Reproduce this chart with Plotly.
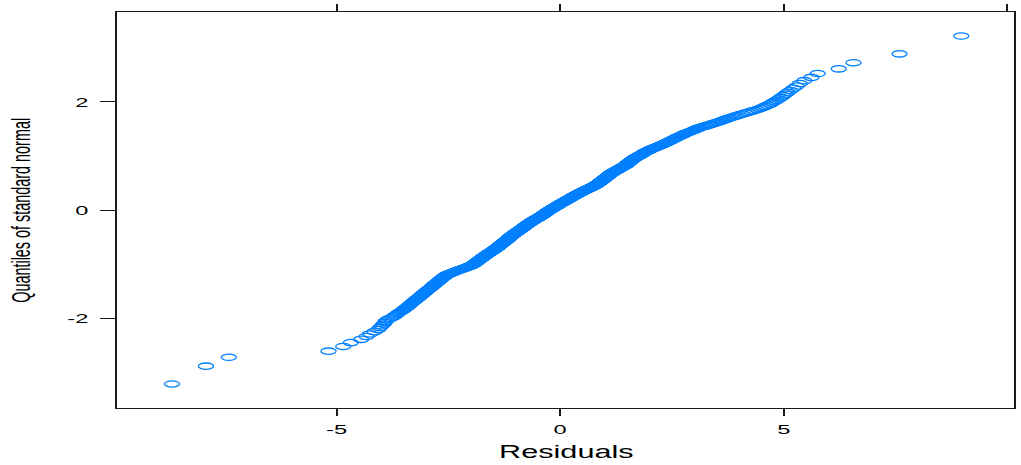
from statistics import NormalDist
import plotly.graph_objects as go

# Model residuals (sorted), one value per observation
residuals = [
    -8.68, -7.92, -7.41, -5.18, -4.85, -4.68, -4.45, -4.33, -4.25, -4.15,
    -4.07, -4.03, -3.99, -3.95, -3.92, -3.90, -3.86, -3.80, -3.74, -3.70,
    -3.67, -3.63, -3.60, -3.56, -3.52, -3.50, -3.47, -3.44, -3.42, -3.39,
    -3.37, -3.35, -3.33, -3.31, -3.29, -3.27, -3.25, -3.23, -3.21, -3.19,
    -3.17, -3.15, -3.14, -3.12, -3.10, -3.09, -3.07, -3.06, -3.04, -3.03,
    -3.01, -3.00, -2.98, -2.97, -2.95, -2.94, -2.92, -2.91, -2.89, -2.88,
    -2.87, -2.86, -2.84, -2.83, -2.82, -2.81, -2.80, -2.78, -2.77, -2.76,
    -2.75, -2.74, -2.73, -2.71, -2.70, -2.69, -2.68, -2.67, -2.66, -2.65,
    -2.64, -2.63, -2.62, -2.60, -2.59, -2.58, -2.57, -2.56, -2.55, -2.54,
    -2.52, -2.50, -2.48, -2.46, -2.44, -2.42, -2.40, -2.38, -2.37, -2.35,
    -2.33, -2.31, -2.29, -2.27, -2.25, -2.23, -2.21, -2.19, -2.17, -2.15,
    -2.13, -2.11, -2.09, -2.08, -2.06, -2.04, -2.02, -2.00, -1.99, -1.97,
    -1.96, -1.95, -1.94, -1.93, -1.92, -1.92, -1.91, -1.90, -1.89, -1.88,
    -1.87, -1.86, -1.86, -1.85, -1.84, -1.83, -1.82, -1.82, -1.81, -1.80,
    -1.79, -1.78, -1.78, -1.77, -1.76, -1.75, -1.74, -1.74, -1.73, -1.72,
    -1.71, -1.70, -1.70, -1.69, -1.68, -1.67, -1.66, -1.66, -1.65, -1.64,
    -1.63, -1.62, -1.62, -1.61, -1.60, -1.59, -1.58, -1.58, -1.57, -1.56,
    -1.55, -1.54, -1.54, -1.53, -1.52, -1.51, -1.50, -1.50, -1.49, -1.48,
    -1.47, -1.47, -1.46, -1.45, -1.44, -1.44, -1.43, -1.42, -1.42, -1.41,
    -1.40, -1.40, -1.39, -1.39, -1.38, -1.37, -1.37, -1.36, -1.36, -1.35,
    -1.34, -1.34, -1.33, -1.33, -1.32, -1.31, -1.31, -1.30, -1.30, -1.29,
    -1.28, -1.28, -1.27, -1.27, -1.26, -1.25, -1.25, -1.24, -1.24, -1.23,
    -1.22, -1.22, -1.21, -1.21, -1.20, -1.19, -1.19, -1.18, -1.18, -1.17,
    -1.17, -1.16, -1.16, -1.15, -1.15, -1.14, -1.14, -1.13, -1.13, -1.12,
    -1.12, -1.11, -1.11, -1.10, -1.10, -1.09, -1.09, -1.08, -1.08, -1.07,
    -1.06, -1.06, -1.05, -1.05, -1.04, -1.03, -1.03, -1.02, -1.02, -1.01,
    -1.00, -1.00, -0.99, -0.99, -0.98, -0.97, -0.97, -0.96, -0.96, -0.95,
    -0.94, -0.94, -0.93, -0.93, -0.92, -0.91, -0.91, -0.90, -0.90, -0.89,
    -0.88, -0.88, -0.87, -0.87, -0.86, -0.85, -0.85, -0.84, -0.84, -0.83,
    -0.83, -0.82, -0.82, -0.81, -0.81, -0.80, -0.80, -0.79, -0.79, -0.78,
    -0.77, -0.77, -0.76, -0.76, -0.75, -0.74, -0.74, -0.73, -0.73, -0.72,
    -0.71, -0.71, -0.70, -0.70, -0.69, -0.68, -0.68, -0.67, -0.67, -0.66,
    -0.65, -0.65, -0.64, -0.64, -0.63, -0.62, -0.62, -0.61, -0.61, -0.60,
    -0.59, -0.59, -0.58, -0.57, -0.57, -0.56, -0.55, -0.55, -0.54, -0.53,
    -0.52, -0.52, -0.51, -0.50, -0.50, -0.49, -0.48, -0.48, -0.47, -0.46,
    -0.45, -0.45, -0.44, -0.44, -0.43, -0.42, -0.42, -0.41, -0.41, -0.40,
    -0.39, -0.39, -0.38, -0.38, -0.37, -0.36, -0.36, -0.35, -0.35, -0.34,
    -0.34, -0.33, -0.33, -0.32, -0.32, -0.31, -0.31, -0.30, -0.30, -0.29,
    -0.28, -0.28, -0.27, -0.27, -0.26, -0.25, -0.25, -0.24, -0.24, -0.23,
    -0.22, -0.21, -0.21, -0.20, -0.20, -0.19, -0.18, -0.18, -0.17, -0.17,
    -0.16, -0.15, -0.15, -0.14, -0.13, -0.13, -0.12, -0.11, -0.11, -0.10,
    -0.09, -0.08, -0.08, -0.07, -0.07, -0.06, -0.05, -0.05, -0.04, -0.04,
    -0.03, -0.02, -0.02, -0.01, 0.00, 0.00, 0.01, 0.02, 0.02, 0.03,
    0.04, 0.05, 0.05, 0.06, 0.07, 0.07, 0.08, 0.09, 0.09, 0.10,
    0.11, 0.12, 0.12, 0.13, 0.14, 0.14, 0.15, 0.16, 0.16, 0.17,
    0.18, 0.19, 0.19, 0.20, 0.21, 0.21, 0.22, 0.23, 0.23, 0.24,
    0.25, 0.26, 0.26, 0.27, 0.28, 0.28, 0.29, 0.30, 0.30, 0.31,
    0.32, 0.33, 0.33, 0.34, 0.35, 0.35, 0.36, 0.37, 0.37, 0.38,
    0.39, 0.40, 0.41, 0.41, 0.42, 0.43, 0.44, 0.44, 0.45, 0.46,
    0.47, 0.48, 0.49, 0.49, 0.50, 0.51, 0.52, 0.52, 0.53, 0.54,
    0.55, 0.56, 0.57, 0.58, 0.58, 0.59, 0.60, 0.61, 0.62, 0.63,
    0.64, 0.65, 0.66, 0.67, 0.67, 0.68, 0.69, 0.70, 0.71, 0.72,
    0.73, 0.74, 0.75, 0.75, 0.76, 0.77, 0.78, 0.78, 0.79, 0.80,
    0.81, 0.82, 0.82, 0.83, 0.83, 0.84, 0.85, 0.85, 0.86, 0.86,
    0.87, 0.88, 0.88, 0.89, 0.89, 0.90, 0.91, 0.91, 0.92, 0.92,
    0.93, 0.94, 0.94, 0.95, 0.95, 0.96, 0.97, 0.97, 0.98, 0.98,
    0.99, 1.00, 1.00, 1.01, 1.01, 1.02, 1.03, 1.03, 1.04, 1.04,
    1.05, 1.06, 1.06, 1.07, 1.07, 1.08, 1.09, 1.09, 1.10, 1.10,
    1.11, 1.12, 1.12, 1.13, 1.14, 1.14, 1.15, 1.16, 1.16, 1.17,
    1.18, 1.19, 1.20, 1.21, 1.22, 1.23, 1.23, 1.24, 1.25, 1.26,
    1.27, 1.28, 1.29, 1.30, 1.31, 1.32, 1.32, 1.33, 1.34, 1.35,
    1.36, 1.37, 1.38, 1.39, 1.40, 1.41, 1.42, 1.43, 1.44, 1.45,
    1.46, 1.47, 1.47, 1.48, 1.49, 1.49, 1.50, 1.51, 1.51, 1.52,
    1.53, 1.54, 1.54, 1.55, 1.56, 1.56, 1.57, 1.58, 1.58, 1.59,
    1.60, 1.61, 1.62, 1.63, 1.64, 1.65, 1.65, 1.66, 1.67, 1.68,
    1.69, 1.70, 1.71, 1.72, 1.74, 1.75, 1.76, 1.77, 1.78, 1.80,
    1.81, 1.82, 1.83, 1.84, 1.85, 1.86, 1.87, 1.88, 1.89, 1.91,
    1.92, 1.93, 1.95, 1.96, 1.98, 1.99, 2.01, 2.02, 2.04, 2.05,
    2.07, 2.09, 2.11, 2.13, 2.15, 2.17, 2.18, 2.20, 2.22, 2.24,
    2.26, 2.28, 2.30, 2.31, 2.33, 2.35, 2.37, 2.39, 2.40, 2.42,
    2.44, 2.46, 2.48, 2.49, 2.51, 2.53, 2.55, 2.57, 2.58, 2.60,
    2.62, 2.64, 2.66, 2.68, 2.71, 2.73, 2.75, 2.77, 2.79, 2.82,
    2.84, 2.87, 2.90, 2.93, 2.96, 2.99, 3.01, 3.04, 3.07, 3.10,
    3.13, 3.17, 3.22, 3.26, 3.31, 3.35, 3.39, 3.44, 3.48, 3.53,
    3.57, 3.61, 3.65, 3.70, 3.74, 3.78, 3.84, 3.90, 3.95, 4.01,
    4.07, 4.14, 4.21, 4.27, 4.34, 4.41, 4.47, 4.53, 4.58, 4.64,
    4.70, 4.74, 4.79, 4.84, 4.89, 4.94, 4.99, 5.04, 5.09, 5.15,
    5.22, 5.29, 5.36, 5.46, 5.62, 5.76, 6.23, 6.56, 7.59, 8.97,
]

x_ticks = [-5, 0, 5]
x_ticks_top = [-5, 0, 5, 10]
y_ticks = [-2, 0, 2]
x_title = "Residuals"
y_title = "Quantiles of standard normal"

# Theoretical standard-normal quantiles at plotting positions (ppoints)
res = sorted(residuals)
n = len(res)
a = 0.375 if n <= 10 else 0.5
probs = [(i + 1 - a) / (n + 1 - 2 * a) for i in range(n)]
norm_q = [NormalDist().inv_cdf(p) for p in probs]

POINT_COL = "#0080ff"
INK = "#1a1a1a"
FONT = "Liberation Sans, Arial, Helvetica, sans-serif"
X_RANGE = [-9.91, 10.15]
Y_RANGE = [-3.665, 3.665]

fig = go.Figure()
fig.add_trace(go.Scatter(
    x=res, y=norm_q, mode="markers",
    marker=dict(symbol="circle-open", size=6.3, color=POINT_COL,
                line=dict(width=1.3, color=POINT_COL)),
    showlegend=False, hoverinfo="skip",
))
# empty trace that carries the top tick axis
fig.add_trace(go.Scatter(x=[], y=[], xaxis="x2", showlegend=False))

fig.update_layout(
    width=1021, height=465,
    margin=dict(l=117, r=5, t=12, b=57),
    paper_bgcolor="white", plot_bgcolor="white",
    font=dict(family=FONT, color="#000000", size=13.5),
    xaxis=dict(
        range=X_RANGE, tickvals=x_ticks, ticktext=[str(v) for v in x_ticks],
        ticks="outside", ticklen=7, tickwidth=2, tickcolor=INK,
        showline=True, linewidth=1, linecolor=INK, mirror=True,
        showgrid=False, zeroline=False, ticklabelstandoff=2,
        tickfont=dict(size=13.5, color="#000000"),
    ),
    xaxis2=dict(
        range=X_RANGE, tickvals=x_ticks_top, overlaying="x", side="top",
        anchor="y", showticklabels=False, ticks="outside", ticklen=7,
        tickwidth=2, tickcolor=INK, showline=False, showgrid=False,
        zeroline=False,
    ),
    yaxis=dict(
        range=Y_RANGE, tickvals=y_ticks, ticktext=[str(v) for v in y_ticks],
        ticks="outside", ticklen=15, tickwidth=1, tickcolor=INK,
        showline=True, linewidth=2, linecolor=INK, mirror=True,
        showgrid=False, zeroline=False, ticklabelstandoff=9,
        tickfont=dict(size=13.5, color="#000000"),
    ),
    annotations=[
        dict(text=x_title, xref="paper", yref="paper", x=(568 - 117) / 899,
             y=-0.111, xanchor="center", yanchor="middle", showarrow=False,
             font=dict(size=17.5, color="#000000", family=FONT)),
        dict(text=y_title, xref="paper", yref="paper", x=(21.5 - 117) / 899,
             y=0.5, xanchor="center", yanchor="middle", showarrow=False,
             textangle=-90, font=dict(size=14.4, color="#000000", family=FONT)),
    ],
)

# Wide lettering and elliptical point symbols, as in the lattice device output.
# The stretch is horizontal on screen; for text inside a rotated group the
# matching axis in its own frame is found from the group's screen matrix.
post_js = """
(function(){
  var gd = document.getElementById('{plot_id}');
  var K = 1.75;
  function widen(el, anchor){
    if (el.getAttribute('data-wide')) return;
    var r = el.getBoundingClientRect();
    var sx = anchor === 'end' ? r.right : (r.left + r.right) / 2;
    var sy = (r.top + r.bottom) / 2;
    var svg = el.ownerSVGElement;
    var ctm = el.parentNode.getScreenCTM();
    var pt = svg.createSVGPoint(); pt.x = sx; pt.y = sy;
    var p = pt.matrixTransform(ctm.inverse());
    var rotated = Math.abs(ctm.b) > Math.abs(ctm.a);
    var sc = rotated ? 'scale(1,' + K + ')' : 'scale(' + K + ',1)';
    var t = el.getAttribute('transform') || '';
    el.setAttribute('transform', 'translate(' + p.x + ',' + p.y + ') ' + sc +
      ' translate(' + (-p.x) + ',' + (-p.y) + ') ' + t);
    el.setAttribute('data-wide', '1');
  }
  gd.querySelectorAll('.xtick text').forEach(function(e){ widen(e, 'middle'); });
  gd.querySelectorAll('.ytick text').forEach(function(e){ widen(e, 'end'); });
  gd.querySelectorAll('.annotation-text').forEach(function(e){ widen(e, 'middle'); });
  gd.querySelectorAll('path.point').forEach(function(e){
    var t = e.getAttribute('transform') || '';
    if (t.indexOf('scale') < 0) {
      e.setAttribute('transform', t + ' scale(2.4,1)');
      e.style.vectorEffect = 'non-scaling-stroke';
    }
  });
})();
"""

fig.write_html("out.html", post_script=post_js)
